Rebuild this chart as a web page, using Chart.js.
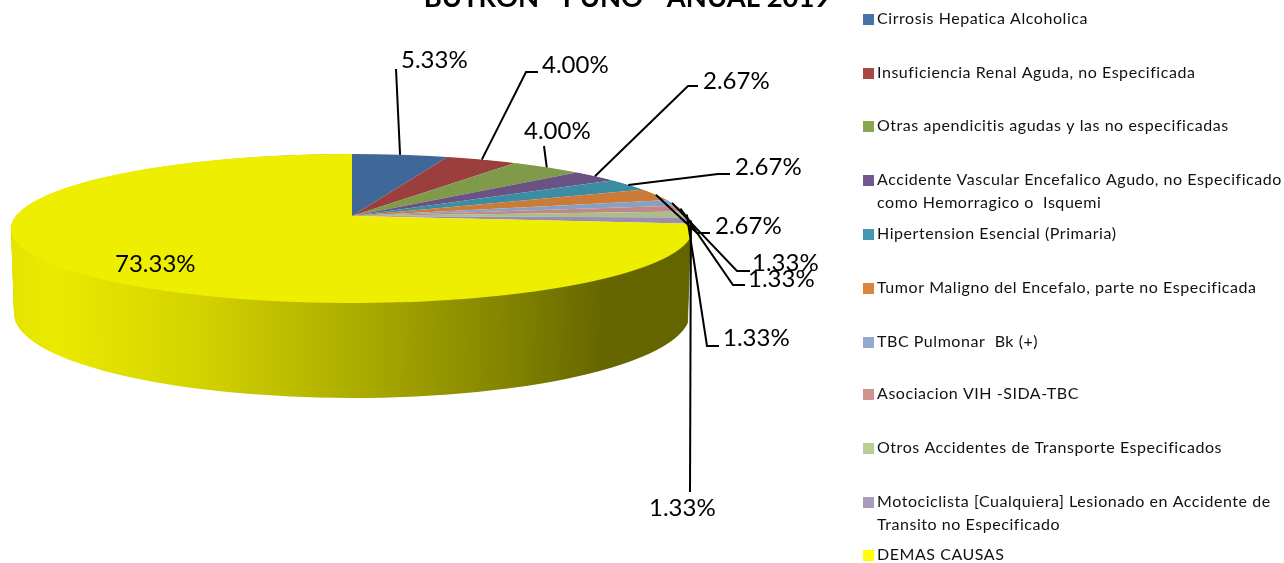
<!DOCTYPE html>
<html>
<head>
<meta charset="utf-8">
<style>
  html, body { margin: 0; padding: 0; background: #fff; overflow: hidden; }
  canvas { display: block; }
</style>
<script src="https://cdn.jsdelivr.net/npm/chart.js@4"></script>
</head>
<body>
<canvas id="chart" width="1284" height="563"></canvas>
<script>
const title_text = 'BUTRON - PUNO - ANUAL 2019'
const categories = [
    'Cirrosis Hepatica Alcoholica',
    'Insuficiencia Renal Aguda, no Especificada',
    'Otras apendicitis agudas y las no especificadas',
    ['Accidente Vascular Encefalico Agudo, no Especificado', 'como Hemorragico o  Isquemi'],
    'Hipertension Esencial (Primaria)',
    'Tumor Maligno del Encefalo, parte no Especificada',
    'TBC Pulmonar  Bk (+)',
    'Asociacion VIH -SIDA-TBC',
    'Otros Accidentes de Transporte Especificados',
    ['Motociclista [Cualquiera] Lesionado en Accidente de', 'Transito no Especificado'],
    'DEMAS CAUSAS'
]
const percents = [5.33, 4.00, 4.00, 2.67, 2.67, 2.67, 1.33, 1.33, 1.33, 1.33, 73.33]

const slice_colors = ['#3F6898', '#9A3F3D', '#7F9A48', '#6A5284', '#3C8CA2', '#CB7A38', '#88A0C2', '#C28887', '#ABBE8A', '#9C8EB0', '#EEEE00']
const legend_colors = ['#4572A7', '#AA4643', '#89A54E', '#71588F', '#4198AF', '#DB843D', '#93A9CF', '#D19392', '#B9CD96', '#A99BBD', '#FFFF00']

// where the value labels sit: text left/middle, then the elbow of the leader line (null = straight)
const label_x = [401, 542, 524, 703, 735, 715, 752, 748, 723, 649, 115]
const label_y = [60, 65, 131, 81, 167, 226, 263, 279, 338, 508, 264]
const elbow_x = [null, 526, null, 688, 718, 697, 737, 733, 707, null, null]
const line_end_x = [396, 538, 544, 698, 730, 710, 750, 745, 719, 690, null]
const line_end_y = [69, 72, 146, 86, 174, 233, 271, 285, 346, 492, null]

// legend rows, middle of the first text line
const legend_y = [19, 73, 126, 180, 234, 288, 342, 394, 448, 502, 555]
const legend_line_height = 23

// perspective of the pie top: apex, horizontal size, vertical size, foreshortening
const apex_x = 352
const apex_y = 216
const persp_g = 336
const persp_b = 72.4
const persp_c = 0.168

const FONT = 'Lato, "Liberation Sans", sans-serif'

function project(nx, ny) {
    const w = 1 + persp_c * ny
    return [apex_x + nx * persp_g / w, apex_y - ny * persp_b / w]
}

function draw_top(ctx, arcs) {
    const first = arcs[0]
    const R = first.outerRadius
    // every pixel row of the top is one horizontal line of the disc, so the row can be drawn with a plain scale
    for (let row = 150; row < 308; row++) {
        const v = apex_y - (row + 0.5)
        const ny = v / (persp_b - persp_c * v)
        const w = 1 + persp_c * ny
        const a = persp_g / (w * R)
        const d = persp_b / (w * w * R)
        ctx.save()
        ctx.beginPath()
        ctx.rect(0, row, 1284, 1)
        ctx.clip()
        ctx.setTransform(a, 0, 0, d, apex_x - a * first.x, row + 0.5 - d * (first.y - ny * R))
        arcs.forEach(arc => arc.draw(ctx))
        ctx.restore()
    }
}

function draw_wall(ctx, arc) {
    const R = arc.outerRadius
    const to_chart = x => (arc.x + (x - apex_x) * R / 340) 
    const grad = ctx.createLinearGradient(to_chart(12), 0, to_chart(692), 0)
    const stops = [[0, '#E4E400'], [0.06, '#EAEA00'], [0.28, '#D2D200'], [0.5, '#ADAD00'], [0.72, '#858500'], [0.87, '#666600'], [1, '#646400']]
    stops.forEach(s => grad.addColorStop(s[0], s[1]))

    const saved = arc.options
    arc.options = Object.assign({}, saved, {backgroundColor: grad})
    const steps = 85
    for (let i = steps; i >= 0; i--) {
        const t = i / steps
        const cy = 228.5 + t * 85
        const rx = 341 - t * 3
        const ry = 74.5 + t * 10
        ctx.save()
        ctx.setTransform(rx / R, 0, 0, ry / R, apex_x - rx / R * arc.x, cy - ry / R * arc.y)
        arc.draw(ctx)
        ctx.restore()
    }
    arc.options = saved
}

function draw_labels(ctx, arcs) {
    ctx.strokeStyle = '#000'
    ctx.lineWidth = 2
    arcs.forEach((arc, i) => {
        if (line_end_x[i] === null) return
        const mid = (arc.startAngle + arc.endAngle) / 2
        const p = project(Math.cos(mid), -Math.sin(mid))
        ctx.beginPath()
        ctx.moveTo(p[0], p[1])
        if (elbow_x[i] !== null) ctx.lineTo(elbow_x[i], line_end_y[i])
        ctx.lineTo(line_end_x[i], line_end_y[i])
        ctx.stroke()
    })

    ctx.fillStyle = '#000'
    ctx.font = '24px ' + FONT
    ctx.textAlign = 'left'
    ctx.textBaseline = 'middle'
    percents.forEach((p, i) => {
        ctx.fillText(p.toFixed(2) + '%', label_x[i], label_y[i])
    })
}

function draw_legend(ctx) {
    ctx.font = '16px ' + FONT
    ctx.letterSpacing = '0.55px'
    ctx.textAlign = 'left'
    ctx.textBaseline = 'middle'
    categories.forEach((cat, i) => {
        ctx.fillStyle = legend_colors[i]
        ctx.fillRect(863, legend_y[i] - 5, 11, 11)
        ctx.fillStyle = '#111'
        const lines = Array.isArray(cat) ? cat : [cat]
        lines.forEach((line, k) => ctx.fillText(line, 877, legend_y[i] + k * legend_line_height))
    })
    ctx.letterSpacing = '0px'
}

function draw_title(ctx) {
    ctx.fillStyle = '#000'
    ctx.font = 'bold 27.4px ' + FONT
    ctx.textAlign = 'center'
    ctx.textBaseline = 'alphabetic'
    ctx.fillText(title_text, 627, 7)
}

const pie3d = {
    id: 'pie3d',
    beforeDatasetsDraw(chart) {
        const ctx = chart.ctx
        const arcs = chart.getDatasetMeta(0).data
        draw_wall(ctx, arcs[arcs.length - 1])
        draw_top(ctx, arcs)
        draw_labels(ctx, arcs)
        draw_legend(ctx)
        draw_title(ctx)
        return false
    }
}

new Chart(document.getElementById('chart'), {
    type: 'pie',
    data: {
        labels: categories,
        datasets: [{
            data: percents,
            backgroundColor: slice_colors,
            borderWidth: 0
        }]
    },
    options: {
        responsive: false,
        animation: false,
        plugins: {
            legend: {display: false},
            tooltip: {enabled: false}
        }
    },
    plugins: [pie3d]
})
</script>
</body>
</html>
